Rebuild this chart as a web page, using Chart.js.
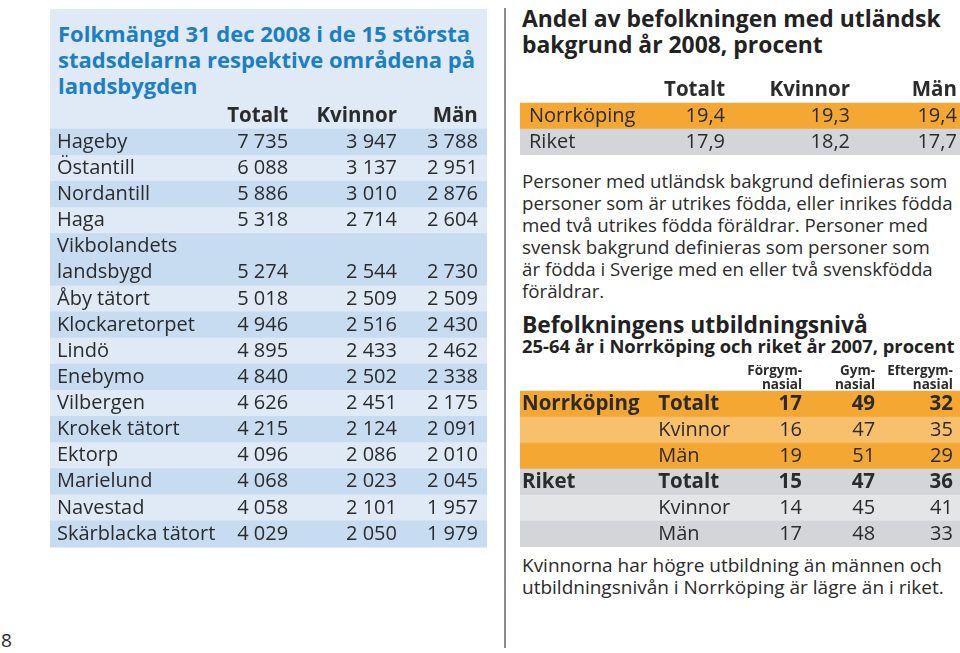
<!DOCTYPE html>
<html lang="sv">
<head>
<meta charset="UTF-8">
<title>Folkmängd och utbildningsnivå</title>
<script src="https://cdn.jsdelivr.net/npm/chart.js"></script>
<style>
  body { margin: 0; width: 960px; height: 653px; position: relative; overflow: hidden; background: #fff;
         font-family: "Open Sans", sans-serif; color: #2b2b2b; }
  .abs { position: absolute; margin: 0; white-space: nowrap; }
  #panel { left: 50px; top: 9px; width: 437px; height: 539px; background: #dfeaf6; }
  #leftTitle { left: 58px; top: 20px; font-size: 22px; line-height: 26px; font-weight: 700; color: #1b7fc1; }
  #rightTitle { left: 522px; top: 6px; font-size: 22.9px; line-height: 26px; font-weight: 700; color: #222; }
  #note { left: 522px; top: 170px; font-size: 18.7px; line-height: 22px; font-weight: 400; }
  #eduTitle { left: 522px; top: 312px; font-size: 22.8px; line-height: 26px; font-weight: 700; color: #222; }
  #eduSub { left: 522px; top: 336px; font-size: 18.4px; line-height: 20px; font-weight: 700; color: #222; }
  #footer { left: 522px; top: 554px; font-size: 19px; line-height: 22px; font-weight: 400; }
  #page { left: 1px; top: 628px; font-size: 19px; line-height: 24px; font-weight: 400; }
  #rule { left: 504px; top: 8px; width: 2px; height: 640px; background: #8c8c8c; }
  canvas { position: absolute; }
</style>
</head>
<body>
  <div id="panel" class="abs"></div>
  <div id="leftTitle" class="abs">Folkmängd 31 dec 2008 i de 15 största<br>stadsdelarna respektive områdena på<br>landsbygden</div>
  <div id="rule" class="abs"></div>
  <div id="rightTitle" class="abs">Andel av befolkningen med utländsk<br>bakgrund år 2008, procent</div>
  <p id="note" class="abs">Personer med utländsk bakgrund definieras som<br>personer som är utrikes födda, eller inrikes födda<br>med två utrikes födda föräldrar. Personer med<br>svensk bakgrund definieras som personer som<br>är födda i Sverige med en eller två svenskfödda<br>föräldrar.</p>
  <div id="eduTitle" class="abs">Befolkningens utbildningsnivå</div>
  <div id="eduSub" class="abs">25-64 år i Norrköping och riket år 2007, procent</div>
  <p id="footer" class="abs">Kvinnorna har högre utbildning än männen och<br>utbildningsnivån i Norrköping är lägre än i riket.</p>
  <div id="page" class="abs">8</div>

  <canvas id="popChart" width="437" height="444" style="left:50px; top:103px"></canvas>
  <canvas id="bgChart" width="440" height="78" style="left:520px; top:77px"></canvas>
  <canvas id="eduChart" width="440" height="182" style="left:520px; top:365px"></canvas>

<script>
// Folkmängd 31 dec 2008
const popColumns = ['Totalt', 'Kvinnor', 'Män'];
const areas = ['Hageby', 'Östantill', 'Nordantill', 'Haga', ['Vikbolandets', 'landsbygd'], 'Åby tätort',
  'Klockaretorpet', 'Lindö', 'Enebymo', 'Vilbergen', 'Krokek tätort', 'Ektorp', 'Marielund', 'Navestad',
  'Skärblacka tätort'];
const areaTotal = [7735, 6088, 5886, 5318, 5274, 5018, 4946, 4895, 4840, 4626, 4215, 4096, 4068, 4058, 4029];
const areaWomen = [3947, 3137, 3010, 2714, 2544, 2509, 2516, 2433, 2502, 2451, 2124, 2086, 2023, 2101, 2050];
const areaMen = [3788, 2951, 2876, 2604, 2730, 2509, 2430, 2462, 2338, 2175, 2091, 2010, 2045, 1957, 1979];

// Andel med utländsk bakgrund 2008
const bgPlaces = ['Norrköping', 'Riket'];
const bgTotal = [19.4, 17.9];
const bgWomen = [19.3, 18.2];
const bgMen = [19.4, 17.7];

// Utbildningsnivå 2007
const eduColumns = [['Förgym-', 'nasial'], ['Gym-', 'nasial'], ['Eftergym-', 'nasial']];
const eduPlaces = ['Norrköping', 'Riket'];
const eduGroups = ['Totalt', 'Kvinnor', 'Män'];
const eduPre = [17, 16, 19, 15, 14, 17];
const eduGym = [49, 47, 51, 47, 45, 48];
const eduPost = [32, 35, 29, 36, 41, 33];

const FONT = '"Open Sans", sans-serif';
const INK = '#2b2b2b';

const thousands = n => String(n).replace(/\B(?=(\d{3})+(?!\d))/g, ' ');
const comma = n => n.toFixed(1).replace('.', ',');

// rows: {label, cells, color, bold, labelBold}; cols: {at, align} in x units 0..100
function tableChart(id, rows, cols, opt) {
  const cellText = {
    id: 'cellText',
    afterDatasetsDraw(chart) {
      const { ctx, scales: { x, y } } = chart;
      ctx.save();
      ctx.fillStyle = INK;
      ctx.textBaseline = 'middle';
      rows.forEach((r, i) => {
        const py = y.getPixelForValue(i);
        r.cells.forEach((c, j) => {
          if (c === '' || c == null) return;
          ctx.textAlign = cols[j].align || 'right';
          const px = x.getPixelForValue(cols[j].at);
          if (Array.isArray(c)) {
            ctx.font = `700 ${opt.headSize}px ${FONT}`;
            ctx.fillText(c[0], px, py - 7);
            ctx.fillText(c[1], px, py + 7);
          } else {
            const bold = r.bold;
            ctx.font = `${bold ? 700 : 400} ${bold ? opt.boldSize : opt.size}px ${FONT}`;
            ctx.fillText(c, px, py);
          }
        });
      });
      ctx.restore();
    }
  };

  return new Chart(document.getElementById(id), {
    type: 'bar',
    data: {
      labels: rows.map(r => r.label),
      datasets: [{
        data: rows.map(() => [0, 100]),
        backgroundColor: rows.map(r => r.color),
        barPercentage: 1,
        categoryPercentage: 1,
        borderWidth: 0
      }]
    },
    options: {
      indexAxis: 'y',
      responsive: false,
      animation: false,
      layout: { padding: 0 },
      plugins: { legend: { display: false }, tooltip: { enabled: false } },
      scales: {
        x: { display: false, min: 0, max: 100 },
        y: {
          afterFit: s => { s.width = 0; s.paddingTop = 0; s.paddingBottom = 0; },
          grid: { display: false, drawTicks: false, tickLength: 0 },
          border: { display: false },
          ticks: {
            z: 1,
            autoSkip: false,
            mirror: true,
            padding: opt.labelPad,
            color: INK,
            font: c => {
              const b = rows[c.index] && rows[c.index].labelBold;
              return { family: FONT, size: b ? opt.boldSize : opt.size, weight: b ? 700 : 400 };
            }
          }
        }
      }
    },
    plugins: [cellText]
  });
}

// left table: a two-line name gets one category per line, same stripe
const popRows = [{ label: '', cells: popColumns, color: 'rgba(0,0,0,0)', bold: true }];
areas.forEach((a, i) => {
  const color = i % 2 === 0 ? '#c7dcf1' : '#dfeaf6';
  const vals = [thousands(areaTotal[i]), thousands(areaWomen[i]), thousands(areaMen[i])];
  if (Array.isArray(a)) {
    a.slice(0, -1).forEach(part => popRows.push({ label: part, cells: ['', '', ''], color }));
    popRows.push({ label: a[a.length - 1], cells: vals, color });
  } else {
    popRows.push({ label: a, cells: vals, color });
  }
});
tableChart('popChart', popRows, [{ at: 54.5 }, { at: 79.4 }, { at: 97.9 }], { size: 20, boldSize: 20.5, labelPad: 7 });

// utländsk bakgrund
const bgColors = ['#f5a733', '#d3d5d8'];
const bgRows = [{ label: '', cells: popColumns, color: 'rgba(0,0,0,0)', bold: true }];
bgPlaces.forEach((p, i) => {
  bgRows.push({ label: p, cells: [comma(bgTotal[i]), comma(bgWomen[i]), comma(bgMen[i])], color: bgColors[i] });
});
tableChart('bgChart', bgRows, [{ at: 46.6 }, { at: 75 }, { at: 99.3 }], { size: 20, boldSize: 20.5, labelPad: 9 });

// utbildningsnivå
const eduShades = [['#f5a733', '#f8c06c'], ['#d3d5d8', '#e4e5e7']];
const eduRows = [{ label: '', cells: [''].concat(eduColumns), color: 'rgba(0,0,0,0)' }];
eduPlaces.forEach((p, pi) => {
  eduGroups.forEach((g, gi) => {
    const k = pi * eduGroups.length + gi;
    eduRows.push({
      label: gi === 0 ? p : '',
      labelBold: true,
      bold: gi === 0,
      cells: [g, eduPre[k], eduGym[k], eduPost[k]].map(String),
      color: eduShades[pi][gi % 2]
    });
  });
});
tableChart('eduChart', eduRows,
  [{ at: 31.4, align: 'left' }, { at: 64.1 }, { at: 80.7 }, { at: 98.4 }],
  { size: 20, boldSize: 20.5, labelPad: 2, headSize: 13.5 });
</script>
</body>
</html>
